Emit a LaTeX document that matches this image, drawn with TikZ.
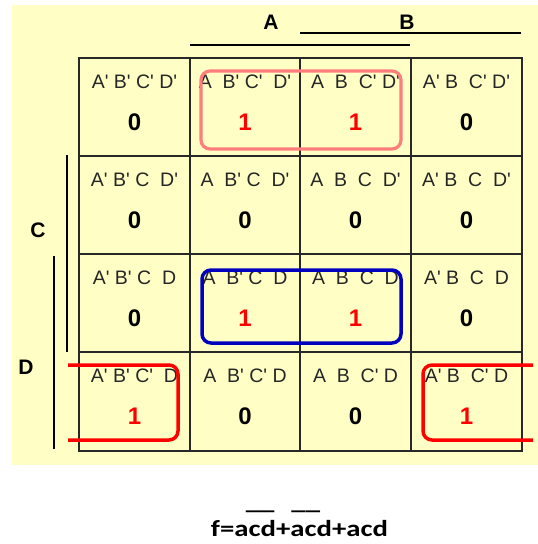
\documentclass[tikz,border=0pt]{standalone}
\usepackage{fontspec}
\setmainfont{Liberation Sans}[Ligatures=TeXOff]
\newfontfamily\formfont{Carlito}
\definecolor{bgyellow}{RGB}{255,255,197}
\definecolor{gridgray}{RGB}{40,40,40}
\definecolor{pinkloop}{RGB}{255,125,125}
\definecolor{blueloop}{RGB}{0,0,190}
\begin{document}
\begin{tikzpicture}[x=1pt,y=-1pt,
  gridline/.style={draw=gridgray,line width=1.3pt},
  varline/.style={draw=black,line width=1.2pt},
  varlab/.style={font=\fontsize{21}{21}\selectfont\bfseries,inner sep=0pt},
  lab/.style={font=\fontsize{19.5}{19.5}\selectfont,text=black!85,anchor=base,inner sep=0pt},
  zero/.style={font=\fontsize{24}{24}\selectfont\bfseries,anchor=base,inner sep=0pt},
  one/.style={zero,text=red},
  loop/.style={line width=3.2pt,rounded corners=9pt}]
\useasboundingbox (0,0) rectangle (538,544);
\fill[bgyellow] (12,5) rectangle (538,465);
% variable labels and bars
\node[varlab] (A) at (271,22) {A};
\node[varlab] (B) at (407,22) {B};
\node[varlab] (C) at (38,230) {C};
\node[varlab] (D) at (26,367) {D};
\coordinate (a1) at (190,45); \coordinate (a2) at (410,45);
\coordinate (b1) at (300,33); \coordinate (b2) at (521,33);
\coordinate (c1) at (67,155); \coordinate (c2) at (67,352);
\coordinate (d1) at (54,256); \coordinate (d2) at (54,449);
\draw[varline] (a1) -- (a2);
\draw[varline] (b1) -- (b2);
\draw[varline] (c1) -- (c2);
\draw[varline] (d1) -- (d2);
% grid
\draw[gridline] (79,58) rectangle (522,451);
\foreach \x in {190,300,411} \draw[gridline] (\x,58) -- (\x,451);
\foreach \y in {156,254,352} \draw[gridline] (79,\y) -- (522,\y);
% row 1
\node[lab] (l11) at (134.5,88.7) {A' B' C' D'};
\node[lab] (l12) at (245,88.7) {A\ \ B' C'\ \ D'};
\node[lab] (l13) at (355.5,88.7) {A\ \ B\ \ C' D'};
\node[lab] (l14) at (466.5,88.7) {A' B\ \ C' D'};
\node[zero] (v11) at (134.5,130.7) {0};
\node[one] (v12) at (245,130.7) {1};
\node[one] (v13) at (355.5,130.7) {1};
\node[zero] (v14) at (466.5,130.7) {0};
% row 2
\node[lab] (l21) at (134.5,186.7) {A' B' C\ \ D'};
\node[lab] (l22) at (245,186.7) {A\ \ B' C\ \ D'};
\node[lab] (l23) at (355.5,186.7) {A\ \ B\ \ C\ \ D'};
\node[lab] (l24) at (466.5,186.7) {A' B\ \ C\ \ D'};
\node[zero] (v21) at (134.5,228.7) {0};
\node[zero] (v22) at (245,228.7) {0};
\node[zero] (v23) at (355.5,228.7) {0};
\node[zero] (v24) at (466.5,228.7) {0};
% row 3
\node[lab] (l31) at (134.5,284.7) {A' B' C\ \ D};
\node[lab] (l32) at (245,284.7) {A\ \ B' C\ \ D};
\node[lab] (l33) at (355.5,284.7) {A\ \ B\ \ C\ \ D};
\node[lab] (l34) at (466.5,284.7) {A' B\ \ C\ \ D};
\node[zero] (v31) at (134.5,326.7) {0};
\node[one] (v32) at (245,326.7) {1};
\node[one] (v33) at (355.5,326.7) {1};
\node[zero] (v34) at (466.5,326.7) {0};
% row 4
\node[lab] (l41) at (134.5,382.7) {A' B' C'\ \ D};
\node[lab] (l42) at (245,382.7) {A\ \ B' C' D};
\node[lab] (l43) at (355.5,382.7) {A\ \ B\ \ C' D};
\node[lab] (l44) at (466.5,382.7) {A' B\ \ C' D};
\node[one] (v41) at (134.5,424.7) {1};
\node[zero] (v42) at (245,424.7) {0};
\node[zero] (v43) at (355.5,424.7) {0};
\node[one] (v44) at (466.5,424.7) {1};
% groupings
\draw[loop,draw=pinkloop] (201,71) rectangle (401,149);
\draw[loop,draw=blueloop,line width=3.5pt] (202,270) rectangle (401,343);
\draw[loop,draw=red,line width=3.5pt] (68,365) -- (178,365) -- (178,440) -- (68,440);
\draw[loop,draw=red,line width=3.5pt] (533,365) -- (423,365) -- (423,440) -- (533,440);
% formula
\node[font=\formfont\bfseries\fontsize{23}{23}\selectfont,anchor=base,inner sep=0pt] (bars) at (283,509.5) {\scalebox{1.25}[1]{\_\_\hspace{13.6pt}\_\_}};
\node[font=\formfont\bfseries\fontsize{23}{23}\selectfont,anchor=base,inner sep=0pt] (f) at (299.5,536.5) {\scalebox{1.25}[1]{f=acd+acd+acd}};
\end{tikzpicture}
\end{document}
